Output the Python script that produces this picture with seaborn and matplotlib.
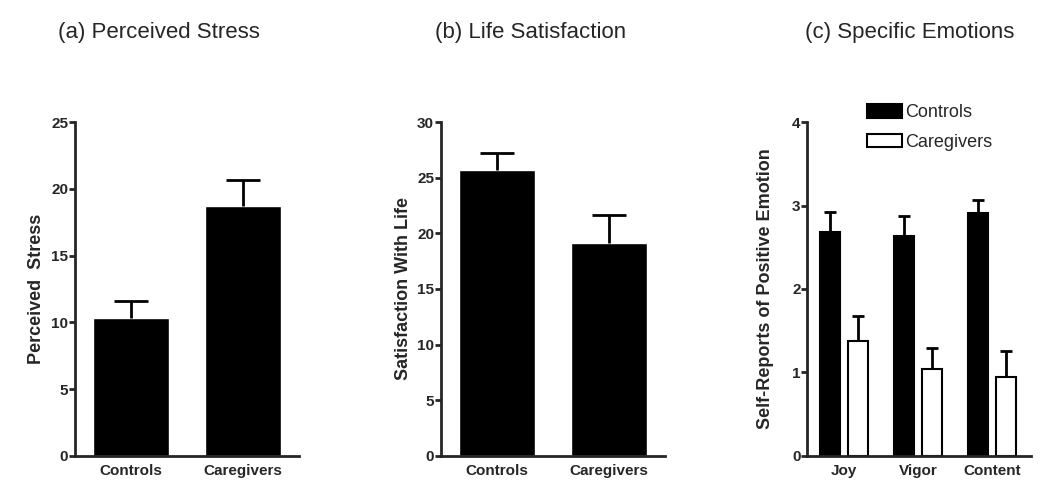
import matplotlib
matplotlib.use('Agg')
import matplotlib.pyplot as plt
import pandas as pd
import seaborn as sns
from matplotlib.patches import Patch

# Data
groups = ['Controls', 'Caregivers']
stress_mean = [10.35, 18.7]
stress_err = [1.25, 1.95]
life_mean = [25.7, 19.1]
life_err = [1.5, 2.55]

emotions = ['Joy', 'Vigor', 'Content']
emo_controls = [2.68, 2.64, 2.91]
emo_controls_err = [0.24, 0.23, 0.16]
emo_caregivers = [1.38, 1.04, 0.94]
emo_caregivers_err = [0.30, 0.25, 0.32]

sns.set_style('ticks')
plt.rcParams['font.family'] = ['Liberation Sans', 'DejaVu Sans']

fig = plt.figure(figsize=(10.5, 4.94), dpi=100)
H = 0.676
B = 0.077
ax1 = fig.add_axes([0.0714, B, 0.213, H])
ax2 = fig.add_axes([0.420, B, 0.213, H])
ax3 = fig.add_axes([0.769, B, 0.213, H])


def upper_errorbar(ax, xs, ys, errs, capsize):
    # only the upper half of the error bar, with a single cap
    eb = ax.errorbar(xs, ys, yerr=[[0] * len(errs), errs], fmt='none',
                     ecolor='black', elinewidth=2, capsize=capsize, capthick=2)
    eb[1][0].set_visible(False)


def style_axis(ax, ylabel, ymax, step, labelpad=4):
    ax.set_ylim(0, ymax)
    ax.set_yticks(range(0, ymax + 1, step))
    ax.set_ylabel(ylabel, fontsize=13, fontweight='bold', labelpad=labelpad)
    ax.set_xlabel('')
    for s in ['top', 'right']:
        ax.spines[s].set_visible(False)
    for s in ['left', 'bottom']:
        ax.spines[s].set_linewidth(2)
    ax.tick_params(axis='y', length=4, width=2, labelsize=11, pad=1)
    ax.tick_params(axis='x', length=0, labelsize=11, pad=6)
    for lab in ax.get_xticklabels() + ax.get_yticklabels():
        lab.set_fontweight('bold')


def simple_panel(ax, means, errs, ylabel, ymax, step):
    df = pd.DataFrame({'group': groups, 'value': means})
    sns.barplot(data=df, x='group', y='value', color='black', width=0.68,
                errorbar=None, ax=ax, saturation=1)
    upper_errorbar(ax, range(len(means)), means, errs, 12)
    ax.set_xlim(-0.5, 1.5)
    style_axis(ax, ylabel, ymax, step)


simple_panel(ax1, stress_mean, stress_err, 'Perceived  Stress', 25, 5)
simple_panel(ax2, life_mean, life_err, 'Satisfaction With Life', 30, 5)

# Panel c
emo_df = pd.DataFrame({
    'emotion': emotions * 2,
    'group': ['Controls'] * 3 + ['Caregivers'] * 3,
    'value': emo_controls + emo_caregivers,
})
sns.barplot(data=emo_df, x='emotion', y='value', hue='group', hue_order=groups,
            palette=['black', 'white'], edgecolor='black', linewidth=1.5,
            width=0.76, gap=0.29, errorbar=None, legend=False, ax=ax3, saturation=1)
for cont, errs in zip(ax3.containers, [emo_controls_err, emo_caregivers_err]):
    xs = [b.get_x() + b.get_width() / 2 for b in cont]
    ys = [b.get_height() for b in cont]
    upper_errorbar(ax3, xs, ys, errs, 4)
ax3.set_xlim(-0.5, 2.53)
style_axis(ax3, 'Self-Reports of Positive Emotion', 4, 1, labelpad=13)

handles = [Patch(facecolor='black', edgecolor='black', linewidth=1.5),
           Patch(facecolor='white', edgecolor='black', linewidth=1.5)]
fig.legend(handles, groups, loc='upper left', bbox_to_anchor=(0.826, 0.79),
           frameon=False, fontsize=13, handlelength=1.9, handleheight=0.8,
           handletextpad=0.2, labelspacing=0.7, borderpad=0, borderaxespad=0)

fig.text(0.151, 0.935, '(a) Perceived Stress', ha='center', va='center', fontsize=16)
fig.text(0.505, 0.935, '(b) Life Satisfaction', ha='center', va='center', fontsize=16)
fig.text(0.866, 0.935, '(c) Specific Emotions', ha='center', va='center', fontsize=16)

fig.savefig('out.png', dpi=100)
